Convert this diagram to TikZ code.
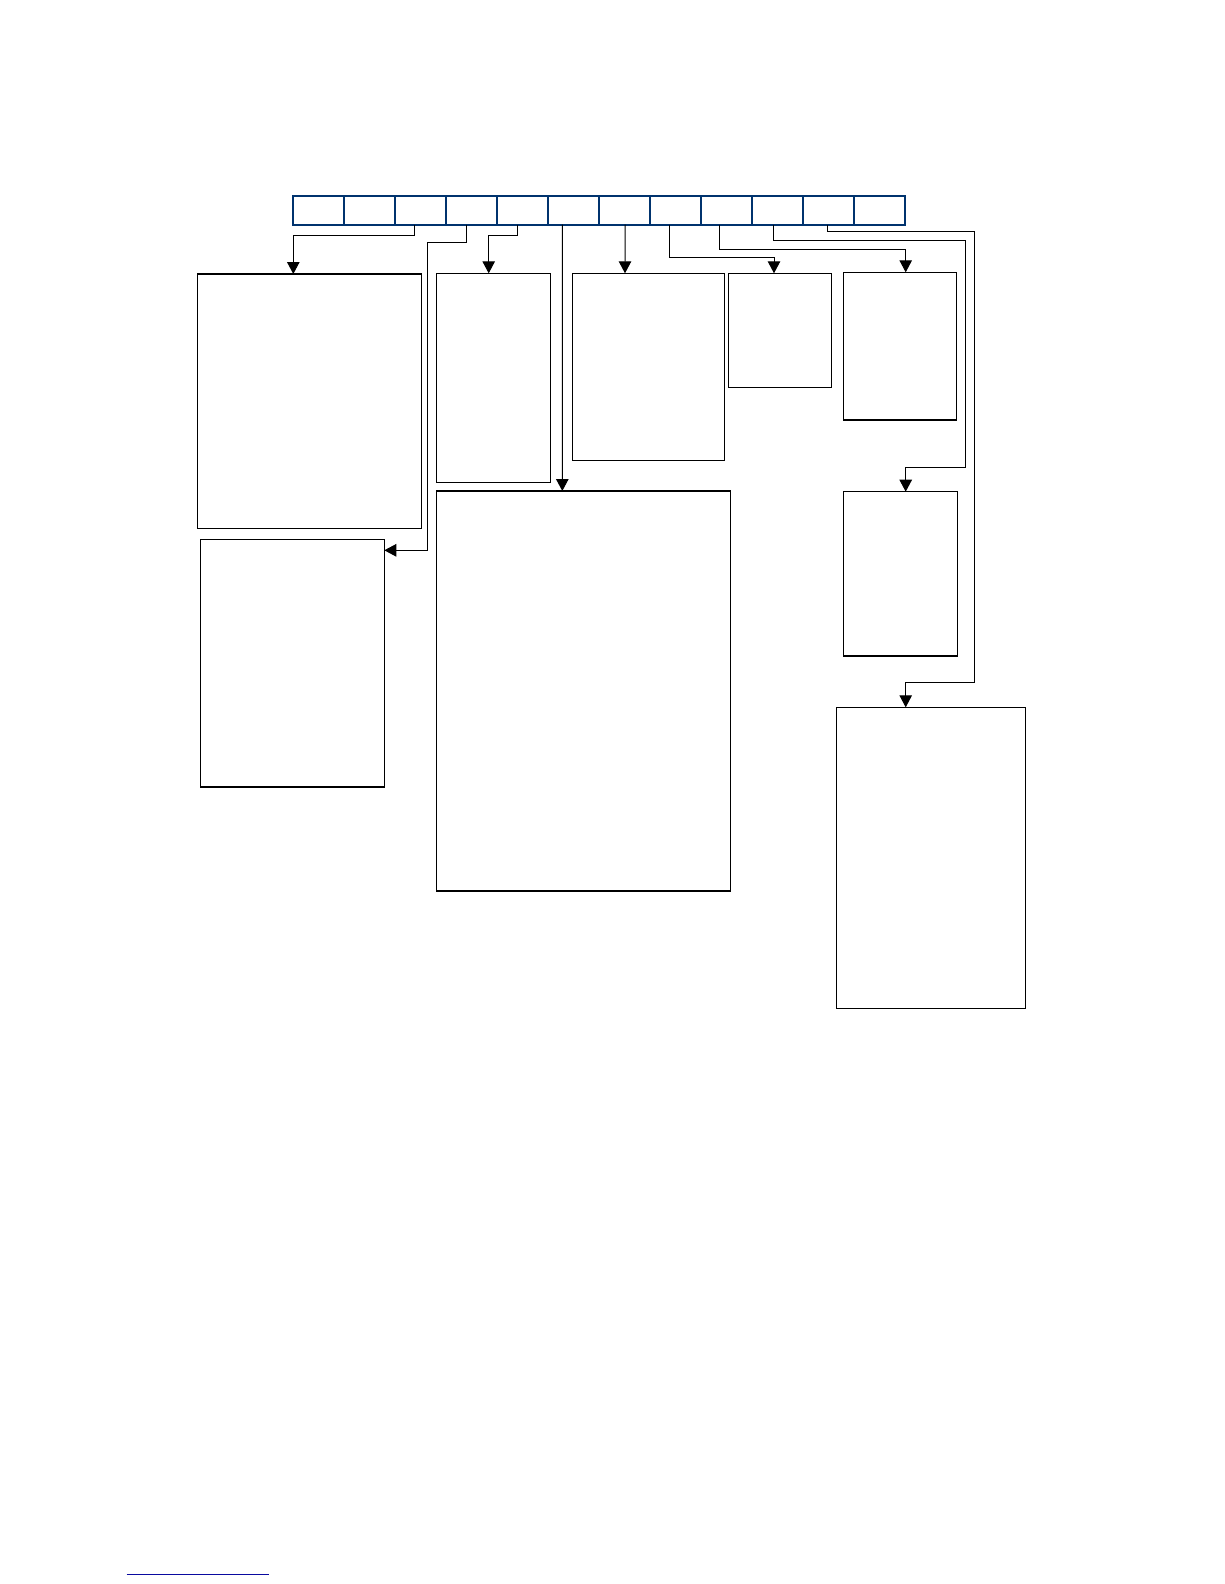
\documentclass[tikz,border=0pt]{standalone}
\usetikzlibrary{arrows.meta}
\definecolor{navy}{RGB}{0,51,110}
\definecolor{fnblue}{RGB}{10,10,160}
\begin{document}
\begin{tikzpicture}[x=1pt,y=-1pt,
  cell/.style={draw=navy,line width=2pt,minimum width=50.96pt,minimum height=28.8pt,inner sep=0pt,outer sep=0pt,anchor=north west},
  box/.style={draw=black,line width=1.3pt,inner sep=0pt,outer sep=0pt,anchor=north west},
  arr/.style={draw=black,line width=1pt,-{Triangle[width=12.5pt,length=12pt]}},
  ]
\useasboundingbox (0,0) rectangle (1224,1584);
% cells
\foreach \i in {1,...,12}{
  \node[cell] (c\i) at ({293.3+(\i-1)*50.96},195.8) {};
}
% boxes
\node[box,minimum width=224pt,minimum height=254.3pt] (b1) at (197.3,274) {};
\node[box,minimum width=183.6pt,minimum height=247.7pt] (b2) at (200.7,539.3) {};
\node[box,minimum width=114pt,minimum height=209pt] (b3) at (436.3,273.3) {};
\node[box,minimum width=294.2pt,minimum height=400pt] (b4) at (436.3,491) {};
\node[box,minimum width=152pt,minimum height=187pt] (b5) at (572.3,273.3) {};
\node[box,minimum width=103.4pt,minimum height=114pt] (b6) at (728.3,273.3) {};
\node[box,minimum width=113.4pt,minimum height=147.7pt] (b7) at (843.3,272.3) {};
\node[box,minimum width=114.4pt,minimum height=164.3pt] (b8) at (843.3,491.7) {};
\node[box,minimum width=188.6pt,minimum height=301pt] (b9) at (836.7,707.3) {};
% connectors
\draw[arr] ([xshift=-6.2pt]c3.south) -- ++(0,10.5) -| ([xshift=-16pt]b1.north);
\draw[arr] ([xshift=-4.8pt]c4.south) -- ++(0,18.2) -| (427.3,550.3) -- ([yshift=-11pt]b2.north east);
\draw[arr] ([xshift=-5.5pt]c5.south) -- ++(0,10.5) -| ([xshift=-4.6pt]b3.north);
\draw[arr] ([xshift=-11.2pt]c6.south) -- ([xshift=-21.1pt]b4.north);
\draw[arr] ([xshift=0.5pt]c7.south) -- ([xshift=-23.3pt]b5.north);
\draw[arr] ([xshift=-6.5pt]c8.south) -- ++(0,33.2) -| ([xshift=-6pt]b6.north);
\draw[arr] ([xshift=-6.5pt]c9.south) -- ++(0,25.2) -| ([xshift=5.7pt]b7.north);
\draw[arr] ([xshift=-3.5pt]c10.south) -- ++(0,16.2) -| (965.7,467.3) -| ([xshift=5.2pt]b8.north);
\draw[arr] ([xshift=-0.7pt]c11.south) -- ++(0,7.2) -| (974.3,682.3) -| ([xshift=-25.3pt]b9.north);
% footnote rule
\coordinate (fa) at (126.7,1574.3);
\coordinate (fb) at (269,1574.3);
\draw[fnblue,line width=1.2pt] (fa) -- (fb);
\end{tikzpicture}
\end{document}
